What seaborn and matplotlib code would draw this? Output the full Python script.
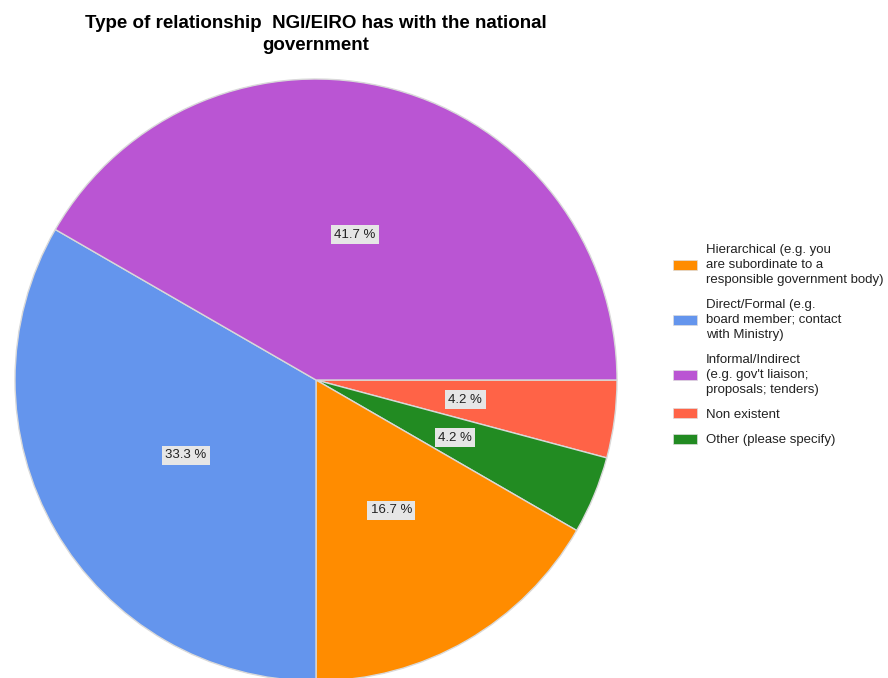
import matplotlib
matplotlib.use('Agg')
import matplotlib.pyplot as plt
import matplotlib.patches as mpatches
import seaborn as sns

# legend order
categories = [
    'Hierarchical (e.g. you\nare subordinate to a\nresponsible government body)',
    'Direct/Formal (e.g.\nboard member; contact\nwith Ministry)',
    'Informal/Indirect\n(e.g. gov\'t liaison;\nproposals; tenders)',
    'Non existent',
    'Other (please specify)',
]
responses = [4, 8, 10, 1, 1]
colors = ['#FF8C00', '#6495ED', '#BA55D3', '#FF6347', '#228B22']

# drawing order of the slices (clockwise from 3 o'clock)
pie_order = [3, 4, 0, 1, 2]

sns.set_theme(style='white')
plt.rcParams['font.family'] = ['Liberation Sans', 'DejaVu Sans']

fig = plt.figure(figsize=(8.88, 6.78), dpi=100)
W, H = 888, 678
cx, cy, r = 316, 380, 301
ax = fig.add_axes([(cx - r) / W, (H - cy - r) / H, 2 * r / W, 2 * r / H])

vals = [responses[i] for i in pie_order]
cols = [colors[i] for i in pie_order]
wedges, texts, autotexts = ax.pie(
    vals, colors=cols, startangle=0, counterclock=False,
    autopct=lambda p: f'{p:.1f} %', pctdistance=0.5, radius=1,
    wedgeprops=dict(edgecolor='#d9d9d9', linewidth=1.0),
    textprops=dict(fontsize=9.5, color='#222222'))
for t in autotexts:
    t.set_bbox(dict(facecolor='#e6e6e6', edgecolor='none', pad=2.5))
ax.set_xlim(-1, 1)
ax.set_ylim(-1, 1)
ax.set_aspect('equal')
ax.axis('off')

fig.text(316 / W, 1 - 15 / H,
         'Type of relationship  NGI/EIRO has with the national\ngovernment',
         ha='center', va='top', fontsize=13.5, fontweight='bold',
         linespacing=1.4, color='black')

handles = [mpatches.Patch(facecolor=c, edgecolor='#dddddd', linewidth=0.5) for c in colors]
leg = fig.legend(handles, categories, loc='center left',
                 bbox_to_anchor=(673 / W, 1 - 345 / H), frameon=False,
                 fontsize=9.5, borderpad=0, borderaxespad=0, labelspacing=0.95,
                 handlelength=1.85, handleheight=0.8, handletextpad=0.65,
                 labelcolor='#222222')
for t in leg.get_texts():
    t.set_linespacing(1.35)

fig.savefig('out.png', dpi=100, facecolor='white')
